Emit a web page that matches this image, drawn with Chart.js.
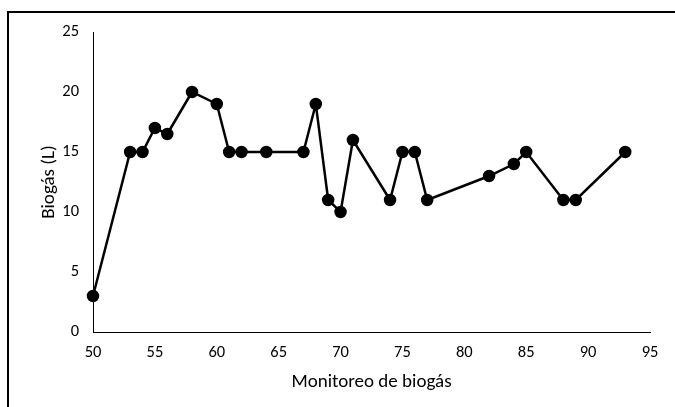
<!DOCTYPE html>
<html>
<head>
<meta charset="utf-8">
<script src="https://cdn.jsdelivr.net/npm/chart.js@4"></script>
<style>
  html, body { margin: 0; padding: 0; background: #fff; overflow: hidden; }
  #wrap { position: relative; width: 675px; height: 407px; overflow: hidden; }
  #frame { position: absolute; left: 7px; top: 11px; width: 700px; height: 430px; border-left: 2px solid #000; border-top: 2px solid #000; }
  canvas { position: absolute; left: 0; top: 0; }
</style>
</head>
<body>
<div id="wrap">
  <div id="frame"></div>
  <canvas id="c" width="675" height="407"></canvas>
</div>
<script>
const monitoreo = [50, 53, 54, 55, 56, 58, 60, 61, 62, 64, 67, 68, 69, 70, 71, 74, 75, 76, 77, 82, 84, 85, 88, 89, 93];
const biogas    = [3, 15, 15, 17, 16.5, 20, 19, 15, 15, 15, 15, 19, 11, 10, 16, 11, 15, 15, 11, 13, 14, 15, 11, 11, 15];
const xTitle = 'Monitoreo de biogás';
const yTitle = 'Biogás (L)';

const points = monitoreo.map((x, i) => ({ x: x, y: biogas[i] }));
const FONT = "Carlito, Lato, 'Liberation Sans', sans-serif";

new Chart(document.getElementById('c'), {
  type: 'line',
  data: {
    datasets: [{
      data: points,
      borderColor: '#000',
      backgroundColor: '#000',
      borderWidth: 2.5,
      pointRadius: 5,
      pointBackgroundColor: '#000',
      pointBorderColor: '#000',
      tension: 0,
      fill: false,
      clip: false
    }]
  },
  options: {
    responsive: false,
    animation: false,
    devicePixelRatio: 1,
    layout: { padding: { left: 0, top: 32, right: 25, bottom: 0 } },
    plugins: { legend: { display: false }, tooltip: { enabled: false } },
    scales: {
      x: {
        type: 'linear',
        min: 50, max: 95,
        grid: { display: false, drawTicks: false },
        border: { display: true, color: '#000', width: 1 },
        ticks: { stepSize: 5, padding: 11, color: '#000', font: { family: FONT, size: 16.5 }, maxRotation: 0 },
        title: { display: true, text: xTitle, color: '#000', font: { family: FONT, size: 19 }, padding: { top: 0, bottom: 13.5 } },
        afterFit: s => { s.height = 75; }
      },
      y: {
        type: 'linear',
        min: 0, max: 25,
        grid: { display: false, drawTicks: false },
        border: { display: true, color: '#000', width: 1 },
        ticks: { stepSize: 5, padding: 14, color: '#000', font: { family: FONT, size: 16.5 } },
        title: { display: true, text: yTitle, color: '#000', font: { family: FONT, size: 19 }, padding: { top: 37.5, bottom: 0 } },
        afterFit: s => { s.width = 93; }
      }
    }
  }
});
</script>
</body>
</html>
